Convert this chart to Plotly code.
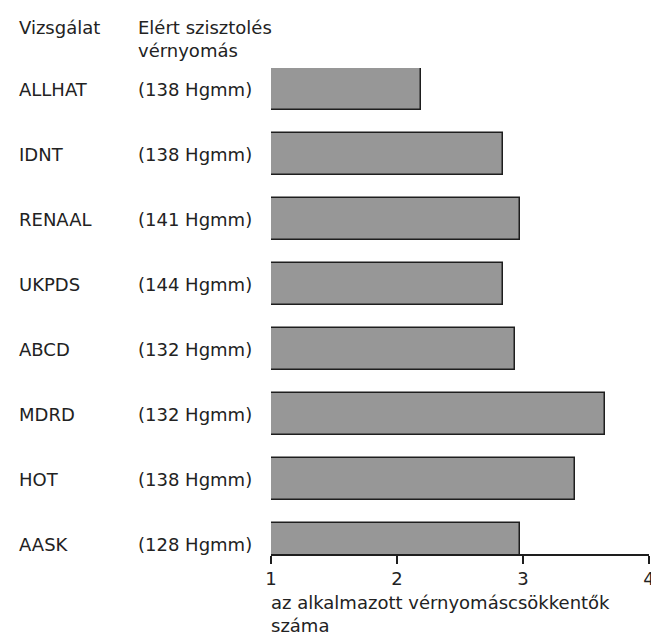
import plotly.graph_objects as go

studies = ["ALLHAT", "IDNT", "RENAAL", "UKPDS", "ABCD", "MDRD", "HOT", "AASK"]
pressures = ["(138 Hgmm)", "(138 Hgmm)", "(141 Hgmm)", "(144 Hgmm)",
             "(132 Hgmm)", "(132 Hgmm)", "(138 Hgmm)", "(128 Hgmm)"]
drug_counts = [2.19, 2.84, 2.98, 2.84, 2.94, 3.65, 3.41, 2.98]
x_ticks = [1, 2, 3, 4]
header_study = "Vizsgálat"
header_pressure = "Elért szisztolés<br>vérnyomás"
x_title = "az alkalmazott vérnyomáscsökkentők<br>száma"

FONT = "'DejaVu Sans', Verdana, sans-serif"
FS = 18
TXT = "#222222"
BASE = 1
OFF = 8  # page body margin

positions = list(range(len(studies)))

fig = go.Figure()
fig.add_trace(go.Bar(
    y=positions,
    x=[v - BASE for v in drug_counts],
    base=BASE,
    orientation="h",
    width=0.646,
    marker=dict(color="#979797", line=dict(color="#1e1e1e", width=1.5)),
    hoverinfo="skip",
    showlegend=False,
))

W, H = 651, 629
L = 271 - OFF
T = 68 - OFF
plot_right = 655 - OFF
plot_bottom = 554 - OFF
R = W - plot_right
B = H - plot_bottom
plot_w = plot_right - L
plot_h = plot_bottom - T


def sx(px):
    """screen x px -> paper x"""
    return (px - OFF - L) / plot_w


def sy(py):
    """screen y px -> paper y"""
    return (plot_bottom - (py - OFF)) / plot_h


font = dict(family=FONT, size=FS, color=TXT)
annotations = []
for i, (s, p) in enumerate(zip(studies, pressures)):
    annotations.append(dict(text=s, x=sx(13), xref="paper", y=i, yref="y", yshift=-1,
                            xanchor="left", yanchor="middle", showarrow=False, font=font))
    annotations.append(dict(text=p, x=sx(134), xref="paper", y=i, yref="y", yshift=-1,
                            xanchor="left", yanchor="middle", showarrow=False, font=font))

annotations.append(dict(text=header_study, x=sx(13), xref="paper",
                        y=sy(15), yref="paper", xanchor="left", yanchor="top",
                        showarrow=False, font=font))
annotations.append(dict(text=header_pressure, x=sx(134), xref="paper",
                        y=sy(15), yref="paper", xanchor="left", yanchor="top",
                        align="left", showarrow=False, font=font))
annotations.append(dict(text=x_title, x=sx(269), xref="paper",
                        y=sy(590), yref="paper", xanchor="left", yanchor="top",
                        align="left", showarrow=False, font=font))

fig.update_layout(
    width=W, height=H,
    margin=dict(l=L, r=R, t=T, b=B, pad=0),
    paper_bgcolor="white", plot_bgcolor="white",
    xaxis=dict(range=[1, 4], tickvals=x_ticks, ticktext=[str(t) for t in x_ticks],
               showgrid=False, zeroline=False, showline=True, linecolor="#1e1e1e",
               linewidth=1.5, ticks="outside", ticklen=8, tickwidth=1.5,
               tickcolor="#1e1e1e", tickfont=font, ticklabeloverflow="allow",
               fixedrange=True),
    yaxis=dict(range=[7.154, -0.323], showticklabels=False, showgrid=False,
               zeroline=False, showline=False, ticks="", fixedrange=True),
    annotations=annotations,
    bargap=0,
)

fig.write_html("out.html")
